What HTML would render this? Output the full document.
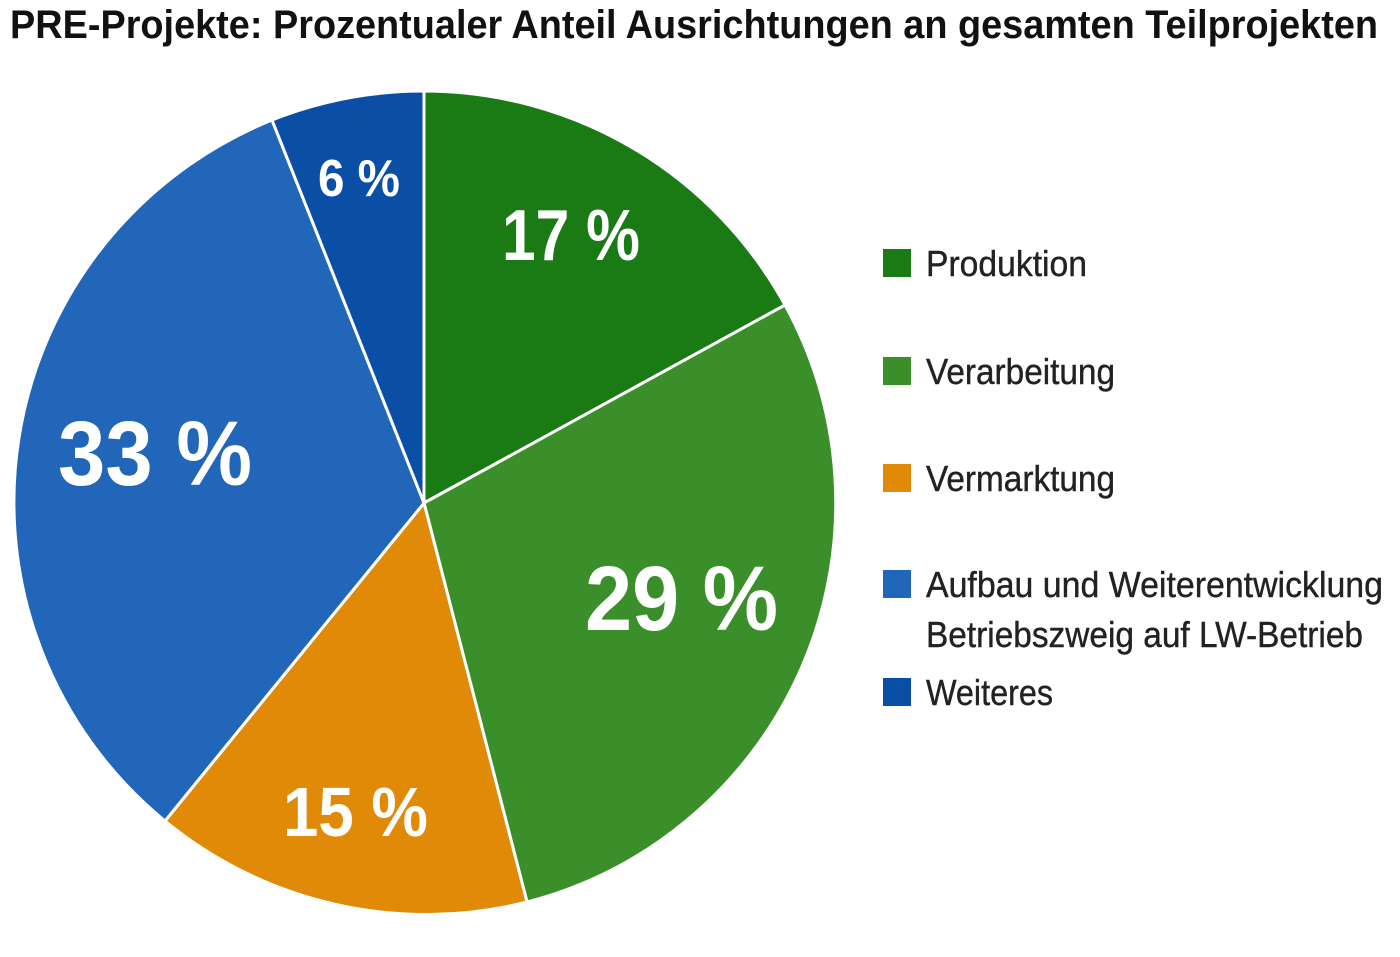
<!DOCTYPE html>
<html><head><meta charset="utf-8"><style>
html,body{margin:0;padding:0;background:#fff;}
svg{display:block;}
text{font-family:"Liberation Sans Narrow","Liberation Sans",sans-serif;}
</style></head><body>
<svg width="1400" height="957" viewBox="0 0 1400 957" xmlns="http://www.w3.org/2000/svg">
<rect width="1400" height="957" fill="#fff"/>
<text x="10" y="38" font-size="40" font-weight="bold" fill="#111" textLength="1368" lengthAdjust="spacingAndGlyphs">PRE-Projekte: Prozentualer Anteil Ausrichtungen an gesamten Teilprojekten</text>
<g stroke="#fff" stroke-width="3">
<path d="M424,503 L424,91 A412,412 0 0 1 785,305 Z" fill="#1a7a14"/>
<path d="M424,503 L785,305 A412,412 0 0 1 527,902 Z" fill="#3a8f2a"/>
<path d="M424,503 L527,902 A412,412 0 0 1 165,821 Z" fill="#e08a08"/>
<path d="M424,503 L165,821 A412,412 0 0 1 272,120 Z" fill="#2166b8"/>
<path d="M424,503 L272,120 A412,412 0 0 1 424,91 Z" fill="#0a4ea6"/>
</g>
<g fill="#fff" font-weight="bold">
<text x="502" y="260" font-size="72" textLength="138" lengthAdjust="spacingAndGlyphs">17 %</text>
<text x="318" y="196" font-size="52" textLength="82" lengthAdjust="spacingAndGlyphs">6 %</text>
<text x="58" y="485" font-size="92" textLength="194" lengthAdjust="spacingAndGlyphs">33 %</text>
<text x="585" y="630" font-size="92" textLength="193" lengthAdjust="spacingAndGlyphs">29 %</text>
<text x="283" y="836" font-size="70" textLength="145" lengthAdjust="spacingAndGlyphs">15 %</text>
</g>
<g>
<rect x="883" y="249" width="28" height="28" fill="#1a7a14"/>
<rect x="883" y="357" width="28" height="28" fill="#3a8f2a"/>
<rect x="883" y="464" width="28" height="28" fill="#e08a08"/>
<rect x="883" y="570" width="28" height="28" fill="#2166b8"/>
<rect x="883" y="678" width="28" height="28" fill="#0a4ea6"/>
</g>
<g fill="#222" font-size="36" stroke="#222" stroke-width="0.4">
<text x="926" y="276" textLength="161" lengthAdjust="spacingAndGlyphs">Produktion</text>
<text x="926" y="384" textLength="189" lengthAdjust="spacingAndGlyphs">Verarbeitung</text>
<text x="926" y="491" textLength="189" lengthAdjust="spacingAndGlyphs">Vermarktung</text>
<text x="926" y="597" textLength="457" lengthAdjust="spacingAndGlyphs">Aufbau und Weiterentwicklung</text>
<text x="926" y="647" textLength="437" lengthAdjust="spacingAndGlyphs">Betriebszweig auf LW-Betrieb</text>
<text x="926" y="705" textLength="127" lengthAdjust="spacingAndGlyphs">Weiteres</text>
</g>
</svg>
</body></html>
